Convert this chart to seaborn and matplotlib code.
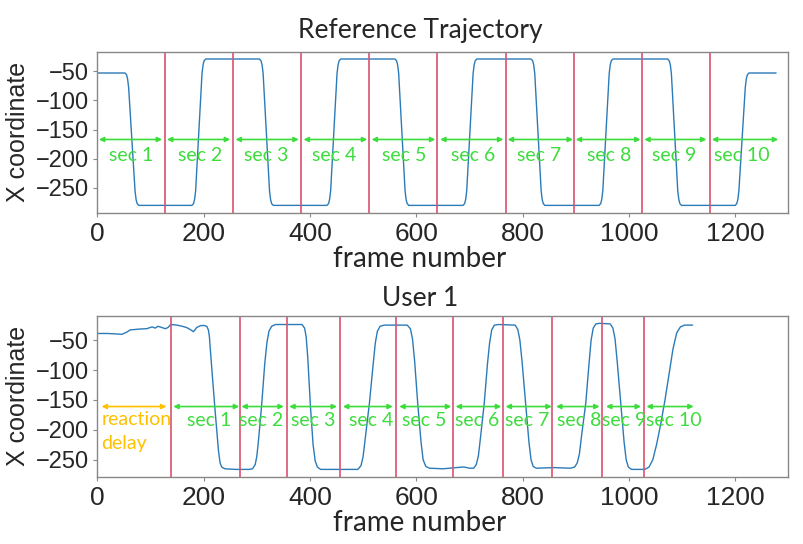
import numpy as np
import pandas as pd
import seaborn as sns
import matplotlib.pyplot as plt

# reference trajectory (frame, x)
ref_frame = [0, 52, 55, 57, 59, 71, 73, 75, 78,
             178, 181, 183, 185, 197, 199, 201, 204,
             305, 308, 310, 312, 324, 326, 328, 331,
             432, 435, 437, 439, 451, 453, 455, 458,
             560, 563, 565, 567, 579, 581, 583, 586,
             688, 691, 693, 695, 707, 709, 711, 714,
             816, 819, 821, 823, 835, 837, 839, 842,
             944, 947, 949, 951, 963, 965, 967, 970,
             1073, 1076, 1078, 1080, 1092, 1094, 1096, 1099,
             1200, 1203, 1205, 1207, 1219, 1221, 1223, 1226, 1277]
ref_x = [-53, -53, -56, -63, -78, -255, -270, -277, -280,
         -280, -277, -270, -255, -54, -39, -32, -29,
         -29, -32, -39, -54, -255, -270, -277, -280,
         -280, -277, -270, -255, -54, -39, -32, -29,
         -29, -32, -39, -54, -255, -270, -277, -280,
         -280, -277, -270, -255, -54, -39, -32, -29,
         -29, -32, -39, -54, -255, -270, -277, -280,
         -280, -277, -270, -255, -54, -39, -32, -29,
         -29, -32, -39, -54, -255, -270, -277, -280,
         -280, -277, -270, -255, -78, -63, -56, -53, -53]

# user 1 trajectory
user_frame = [0, 20, 40, 46, 55, 62, 81, 93, 103, 109, 114, 118, 128, 133, 138, 150, 160, 168, 176, 181, 187, 194, 200, 206,
              209, 211, 213, 221, 228, 231, 234, 240, 260, 285, 292,
              297, 300, 303, 309, 315, 319, 323, 328, 335, 385,
              390, 393, 396, 401, 406, 410, 414, 420, 490,
              496, 500, 504, 512, 519, 523, 527, 532, 540, 583,
              589, 593, 597, 603, 609, 613, 618, 625, 650, 675, 690, 700, 708,
              713, 717, 721, 728, 734, 738, 742, 747, 755, 786,
              791, 795, 799, 806, 812, 816, 820, 826, 860, 890, 898,
              903, 907, 911, 919, 925, 929, 933, 938, 945, 965,
              970, 974, 978, 985, 991, 995, 999, 1005, 1030,
              1038, 1045, 1052, 1060, 1068, 1076, 1083, 1090, 1097, 1105, 1120]
user_x = [-39, -39, -40, -40.5, -37, -33, -31.5, -31, -28, -30, -27, -28, -31, -29, -24, -25, -27, -29, -33, -36, -29, -26, -25.5, -27,
          -33, -45, -70, -161, -235, -255, -262, -265, -266, -266, -265,
          -258, -245, -220, -161, -90, -55, -35, -27, -24, -24,
          -30, -45, -80, -161, -225, -252, -262, -266, -266,
          -260, -245, -215, -155, -90, -55, -35, -27, -25, -25,
          -31, -48, -85, -158, -220, -250, -261, -264, -265, -263, -262, -264, -264,
          -258, -243, -212, -155, -90, -55, -33, -25, -24, -25,
          -32, -50, -85, -158, -220, -250, -261, -264, -263, -264, -262,
          -255, -240, -210, -155, -90, -50, -30, -23, -22, -23,
          -30, -48, -85, -158, -220, -250, -262, -266, -266,
          -262, -250, -225, -190, -150, -105, -65, -38, -28, -25, -25]

# section boundaries (red lines)
ref_bounds = [128, 256, 384, 512, 640, 768, 896, 1024, 1152]
user_bounds = [138, 268, 357, 457, 562, 669, 764, 856, 949, 1029]

# arrows and labels
sec_labels = ['sec 1', 'sec 2', 'sec 3', 'sec 4', 'sec 5', 'sec 6', 'sec 7', 'sec 8', 'sec 9', 'sec 10']
ref_arr_start = [3, 131, 260, 388, 516, 645, 772, 900, 1029, 1156]
ref_arr_end = [122, 250, 379, 508, 636, 764, 895, 1022, 1146, 1281]
ref_lab_x = [63, 193, 318, 446, 578, 707, 832, 963, 1085, 1213]
user_arr_start = [143, 271, 361, 462, 568, 674, 768, 863, 957, 1033]
user_arr_end = [267, 351, 451, 556, 666, 760, 855, 945, 1023, 1122]
user_lab_x = [210, 309, 407, 515, 615, 714, 809, 906, 991, 1085]
delay_start, delay_end = 8, 130

line_c = '#2b7bb9'
red_c = '#d9536f'
green_c = '#3ddc3d'
orange_c = '#ffc000'

sns.set_style('ticks')
plt.rcParams['font.family'] = ['Liberation Sans', 'DejaVu Sans']
fig = plt.figure(figsize=(8.04, 5.44), dpi=100)
ax1 = fig.add_axes([0.121, 0.609, 0.8595, 0.296])
ax2 = fig.add_axes([0.121, 0.1237, 0.8595, 0.2954])

df_ref = pd.DataFrame({'frame': ref_frame, 'x': ref_x})
df_user = pd.DataFrame({'frame': user_frame, 'x': user_x})
sns.lineplot(data=df_ref, x='frame', y='x', ax=ax1, color=line_c, lw=1.0, estimator=None)
sns.lineplot(data=df_user, x='frame', y='x', ax=ax2, color=line_c, lw=1.0, estimator=None)

txt_font = 'Lato'
tick_font = 'Liberation Sans'
for ax, bounds, a0, a1, lx, ay, ty in [(ax1, ref_bounds, ref_arr_start, ref_arr_end, ref_lab_x, -167, -195),
                                       (ax2, user_bounds, user_arr_start, user_arr_end, user_lab_x, -161, -184)]:
    for b in bounds:
        ax.axvline(b, color=red_c, lw=1.2)
    for s, e, x, lab in zip(a0, a1, lx, sec_labels):
        ax.annotate('', xy=(e, ay), xytext=(s, ay),
                    arrowprops=dict(arrowstyle='<|-|>', color=green_c, lw=1.2, mutation_scale=7, shrinkA=0, shrinkB=0))
        ax.text(x, ty, lab, color=green_c, fontsize=14, family=txt_font, ha='center', va='center')
    ax.set_xlim(0, 1300)
    ax.set_xticks([0, 200, 400, 600, 800, 1000, 1200])
    ax.set_yticks([-50, -100, -150, -200, -250])
    ax.tick_params(axis='x', labelsize=19, length=3, color='#888888', pad=4)
    ax.tick_params(axis='y', labelsize=17, length=3, color='#888888', pad=3)
    plt.setp(ax.get_xticklabels() + ax.get_yticklabels(), family=tick_font)
    ax.set_xlabel('')
    ax.set_ylabel('X coordinate', fontsize=18, labelpad=4, family=tick_font)
    for sp in ax.spines.values():
        sp.set_color('#888888')
        sp.set_linewidth(1.0)

ax2.annotate('', xy=(delay_end, -161), xytext=(delay_start, -161),
             arrowprops=dict(arrowstyle='<|-|>', color=orange_c, lw=1.2, mutation_scale=7, shrinkA=0, shrinkB=0))
ax2.text(delay_start, -183, 'reaction', color=orange_c, fontsize=14, family=txt_font, ha='left', va='center')
ax2.text(delay_start, -223, 'delay', color=orange_c, fontsize=14, family=txt_font, ha='left', va='center')

fig.text(420 / 804, 1 - 38 / 544, 'Reference Trajectory', fontsize=19, family=txt_font, ha='center', va='baseline')
fig.text(420 / 804, 1 - 306 / 544, 'User 1', fontsize=19, family=txt_font, ha='center', va='baseline')
fig.text(420 / 804, 1 - 267 / 544, 'frame number', fontsize=20, family=txt_font, ha='center', va='baseline')
fig.text(420 / 804, 1 - 531 / 544, 'frame number', fontsize=20, family=txt_font, ha='center', va='baseline')

fig.savefig('out.png', dpi=100)
